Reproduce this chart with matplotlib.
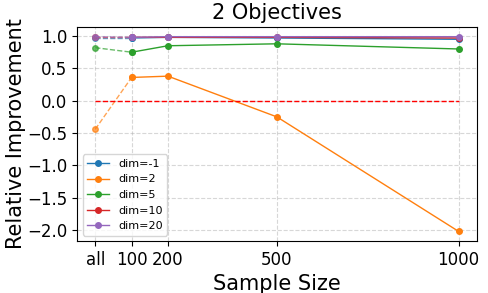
import matplotlib
matplotlib.use('Agg')
import matplotlib.pyplot as plt
import numpy as np

sizes = [0, 100, 200, 500, 1000]
tick_labels = ['all', '100', '200', '500', '1000']
dims = [-1, 2, 5, 10, 20]
improvement = {
    -1: [0.97, 0.97, 0.98, 0.97, 0.95],
    2: [-0.44, 0.36, 0.38, -0.25, -2.02],
    5: [0.82, 0.75, 0.85, 0.88, 0.80],
    10: [0.98, 0.98, 0.98, 0.98, 0.97],
    20: [0.99, 0.98, 0.99, 0.99, 0.99],
}
colors = ['C0', 'C1', 'C2', 'C3', 'C4']

fig, ax = plt.subplots(figsize=(4.88, 2.93), dpi=100)

for d, c in zip(dims, colors):
    vals = improvement[d]
    # "all" -> 100 dashed, rest solid
    ax.plot(sizes[:2], vals[:2], '--', color=c, lw=1, alpha=0.7, marker='o', markersize=4)
    ax.plot(sizes[1:], vals[1:], '-', color=c, lw=1, marker='o', markersize=4, label='dim=%d' % d)

ax.plot([sizes[0], sizes[-1]], [0, 0], '--', color='red', lw=1)

ax.set_xticks(sizes)
ax.set_xticklabels(tick_labels, fontsize=12)
ax.set_yticks(np.arange(-2.0, 1.01, 0.5))
ax.tick_params(axis='y', labelsize=12)
ax.set_xlabel('Sample Size', fontsize=15)
ax.set_ylabel('Relative Improvement', fontsize=15, labelpad=1)
ax.set_title('2 Objectives', fontsize=15)
ax.grid(ls='--', alpha=0.5)
ax.legend(loc='lower left', fontsize=8)

plt.subplots_adjust(left=0.158, right=0.977, top=0.908, bottom=0.177)
plt.savefig('out.png', dpi=100)
